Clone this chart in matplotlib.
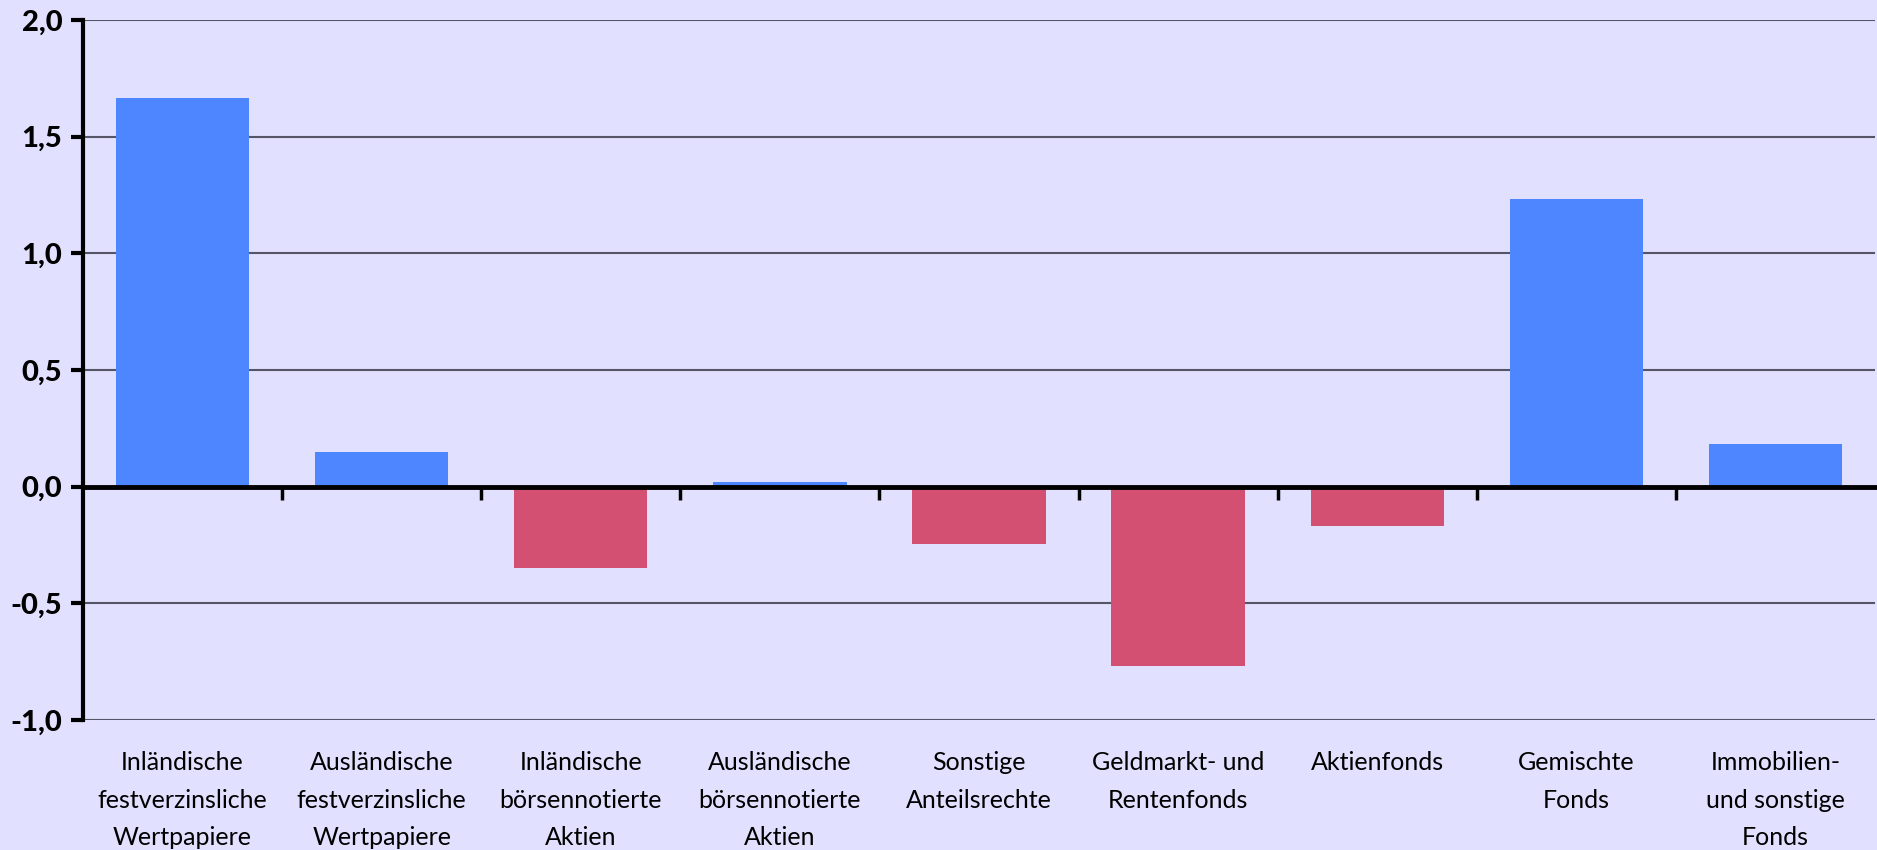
import numpy as np
import matplotlib
matplotlib.use("Agg")
import matplotlib.pyplot as plt
from matplotlib.ticker import FuncFormatter

# Daten
kategorien = [
    "Inländische\nfestverzinsliche\nWertpapiere",
    "Ausländische\nfestverzinsliche\nWertpapiere",
    "Inländische\nbörsennotierte\nAktien",
    "Ausländische\nbörsennotierte\nAktien",
    "Sonstige\nAnteilsrechte",
    "Geldmarkt- und\nRentenfonds",
    "Aktienfonds",
    "Gemischte\nFonds",
    "Immobilien-\nund sonstige\nFonds",
]
werte = [1.666, 0.15, -0.348, 0.02, -0.244, -0.767, -0.167, 1.233, 0.183]
y_ticks = [-1.0, -0.5, 0.0, 0.5, 1.0, 1.5, 2.0]

blau = "#4D86FF"
rot = "#D45072"
hintergrund = "#E1E1FF"

plt.rcParams["font.family"] = ["Lato", "DejaVu Sans"]

fig = plt.figure(figsize=(18.77, 8.5), dpi=100, facecolor=hintergrund)
ax = fig.add_axes([0.0442, 0.153, 0.9548, 0.8235])
ax.set_facecolor(hintergrund)

x = np.arange(len(kategorien))
farben = [blau if v >= 0 else rot for v in werte]
ax.bar(x, werte, width=0.67, color=farben, zorder=2)

ax.set_xlim(-0.5, len(kategorien) - 0.5)
ax.set_ylim(-1.0, 2.0)
ax.set_yticks(y_ticks)
ax.yaxis.set_major_formatter(FuncFormatter(lambda v, p: f"{v:.1f}".replace(".", ",")))
ax.grid(axis="y", color="#555565", linewidth=1.5, zorder=1)

for s in ["top", "right"]:
    ax.spines[s].set_visible(False)
ax.spines["left"].set_linewidth(3)
ax.spines["bottom"].set_position(("data", 0))
ax.spines["bottom"].set_linewidth(3.5)
ax.spines["bottom"].set_zorder(3)

ax.tick_params(axis="y", length=9, width=3, labelsize=21, pad=6)
for lbl in ax.get_yticklabels():
    lbl.set_fontweight("black")

# Trennstriche zwischen den Kategorien an der Nulllinie
ax.set_xticks(x[:-1] + 0.5)
ax.tick_params(axis="x", length=9, width=2.5, direction="out", labelbottom=False)

# Kategorienbeschriftung unterhalb des Diagramms
for xi, name in zip(x, kategorien):
    ax.text(xi, -0.045, name, transform=ax.get_xaxis_transform(),
            ha="center", va="top", fontsize=18, linespacing=1.75)

fig.savefig("out.png", dpi=100, facecolor=hintergrund)
